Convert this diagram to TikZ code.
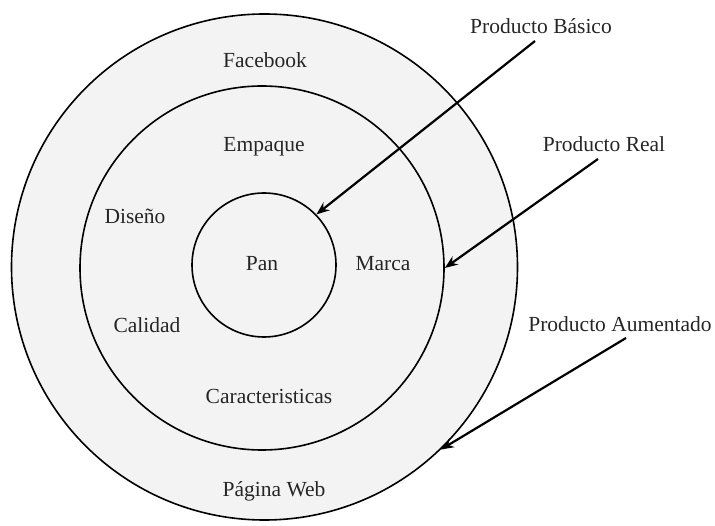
\documentclass[tikz,border=0pt]{standalone}
\usepackage{fontspec}
\setmainfont{Liberation Serif}
\usetikzlibrary{arrows.meta}
\definecolor{ringfill}{HTML}{F3F3F3}
\tikzset{
  ring/.style={circle, draw=black, line width=1.6pt, fill=ringfill, inner sep=0pt},
  lbl/.style={font=\fontsize{21.5}{24}\selectfont, text=black!85, inner sep=1pt},
  pointer/.style={line width=2.2pt, -{Stealth[length=13pt,width=10pt]}}
}
\begin{document}
\begin{tikzpicture}[x=1pt,y=-1pt]
  \useasboundingbox (0,0) rectangle (715,526);
  % three nested product layers
  \node[ring, minimum size=506pt] (outer) at (264.5,267) {};
  \node[ring, minimum size=364pt] (middle) at (262,268) {};
  \node[ring, minimum size=144pt] (inner) at (264,265) {};

  % layer contents
  \node[lbl] (fb) at (265,60) {Facebook};
  \node[lbl] (emp) at (264,147) {Empaque};
  \node[lbl] (dis) at (135,216) {Diseño};
  \node[lbl] (pan) at (262,264) {Pan};
  \node[lbl] (mar) at (383,264) {Marca};
  \node[lbl] (cal) at (147,325) {Calidad};
  \node[lbl] (car) at (269,396) {Caracteristicas};
  \node[lbl] (web) at (274,491) {Página Web};

  % layer names
  \node[lbl] (pb) at (541,26) {Producto Básico};
  \node[lbl] (pr) at (604,144) {Producto Real};
  \node[lbl] (pa) at (620,324) {Producto Aumentado};

  \coordinate (pbs) at (535,41);
  \coordinate (prs) at (598,159);
  \coordinate (pas) at (626,338);

  \draw[pointer] (pbs) -- (inner.44);
  \draw[pointer] (prs) -- (middle.0);
  \draw[pointer] (pas) -- (outer.-46);
\end{tikzpicture}
\end{document}
